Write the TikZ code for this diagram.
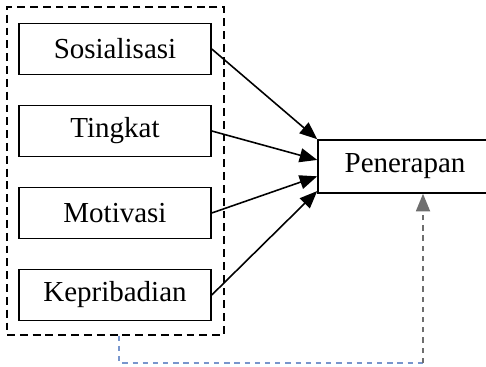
\documentclass[tikz,border=0pt]{standalone}
\usepackage{fontspec}
\setmainfont{Liberation Serif}
\usetikzlibrary{arrows.meta,positioning,calc}

\begin{document}
\begin{tikzpicture}[x=0.02cm,y=-0.02cm,
    every node/.style={font=\fontsize{16.5}{19}\selectfont},
    var/.style={draw,line width=0.9pt,minimum width=3.84cm,minimum height=1.02cm,inner sep=0pt},
    link/.style={line width=0.9pt,-{Triangle[length=10pt,width=8pt]}}]
    \useasboundingbox (0,0) rectangle (486,367);

    % variabel bebas
    \foreach \nm/\txt/\yy in {a1/Sosialisasi/49,a2/Tingkat/131,a3/Motivasi/213,a4/Kepribadian/295}
    {%
    \node[var] at (115,\yy) (\nm) {\txt};
    }%
    \node[draw,line width=0.9pt,dash pattern=on 4.5pt off 2.8pt,minimum width=4.34cm,minimum height=6.56cm,inner sep=0pt] at (115.5,171) (grp) {};

    % variabel terikat
    \node[draw,line width=0.9pt,minimum width=3.48cm,minimum height=1.06cm,inner sep=0pt] at (405,166.5) (pen) {Penerapan};

    % connections
    \draw[link] (a1.east) -- (pen.north west);
    \draw[link] (a2.east) -- ($(pen.north west)!0.38!(pen.south west)$);
    \draw[link] (a3.east) -- ($(pen.north west)!0.68!(pen.south west)$);
    \draw[link] (a4.east) -- ($(pen.north west)!0.95!(pen.south west)$);

    % umpan balik
    \coordinate (b1) at (119,363);
    \coordinate (b2) at (423,363);
    \draw[line width=0.9pt,color={rgb,255:red,120;green,150;blue,205},dash pattern=on 3pt off 2.8pt] (grp.south -| b1) -- (b1) -- (b2);
    \draw[line width=0.9pt,color={rgb,255:red,110;green,110;blue,110},dash pattern=on 3pt off 2.8pt,-{Triangle[length=10pt,width=8pt]}] (b2) -- (pen.south -| b2);
\end{tikzpicture}
\end{document}
